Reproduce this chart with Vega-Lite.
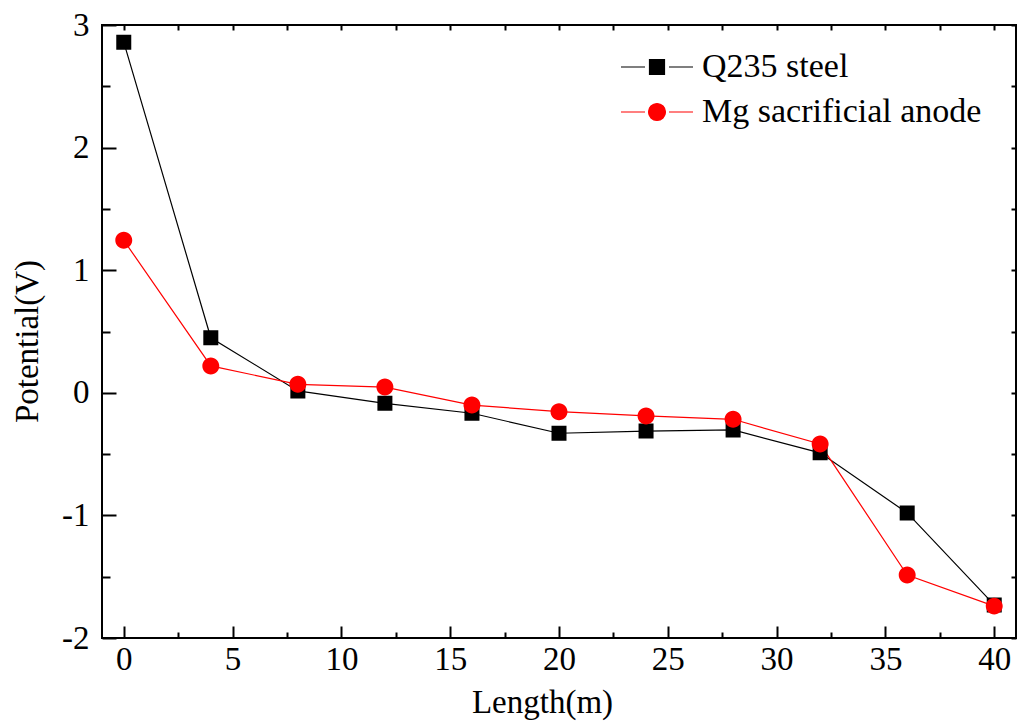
{
  "$schema": "https://vega.github.io/schema/vega-lite/v6.json",
  "width": 914,
  "height": 613,
  "autosize": {"type": "none"},
  "padding": {"left": 102, "top": 25, "right": 5, "bottom": 88},
  "background": "white",
  "config": {
    "font": "Liberation Serif, Times New Roman, serif",
    "view": {"stroke": "black", "strokeWidth": 2},
    "axis": {
      "domain": false,
      "grid": false,
      "tickColor": "black",
      "tickWidth": 2,
      "labelColor": "black",
      "titleColor": "black",
      "labelFont": "Liberation Serif, Times New Roman, serif",
      "titleFont": "Liberation Serif, Times New Roman, serif",
      "labelFontSize": 33,
      "titleFontSize": 33,
      "titleFontWeight": "normal",
      "labelExpr": "toString(datum.value)"
    },
    "legend": {"labelFont": "Liberation Serif, Times New Roman, serif"}
  },
  "data": {
    "values": [
      {"series": "Q235 steel", "length": 0, "potential": 2.86},
      {"series": "Q235 steel", "length": 4, "potential": 0.449},
      {"series": "Q235 steel", "length": 8, "potential": 0.015},
      {"series": "Q235 steel", "length": 12, "potential": -0.086},
      {"series": "Q235 steel", "length": 16, "potential": -0.167},
      {"series": "Q235 steel", "length": 20, "potential": -0.33},
      {"series": "Q235 steel", "length": 24, "potential": -0.312},
      {"series": "Q235 steel", "length": 28, "potential": -0.303},
      {"series": "Q235 steel", "length": 32, "potential": -0.49},
      {"series": "Q235 steel", "length": 36, "potential": -0.98},
      {"series": "Q235 steel", "length": 40, "potential": -1.73},
      {"series": "Mg sacrificial anode", "length": 0, "potential": 1.244},
      {"series": "Mg sacrificial anode", "length": 4, "potential": 0.219},
      {"series": "Mg sacrificial anode", "length": 8, "potential": 0.069},
      {"series": "Mg sacrificial anode", "length": 12, "potential": 0.047},
      {"series": "Mg sacrificial anode", "length": 16, "potential": -0.1},
      {"series": "Mg sacrificial anode", "length": 20, "potential": -0.154},
      {"series": "Mg sacrificial anode", "length": 24, "potential": -0.189},
      {"series": "Mg sacrificial anode", "length": 28, "potential": -0.216},
      {"series": "Mg sacrificial anode", "length": 32, "potential": -0.418},
      {"series": "Mg sacrificial anode", "length": 36, "potential": -1.486},
      {"series": "Mg sacrificial anode", "length": 40, "potential": -1.74}
    ]
  },
  "layer": [
    {
      "mark": {"type": "line", "strokeWidth": 1.2},
      "encoding": {
        "x": {
          "field": "length", "type": "quantitative",
          "scale": {"domain": [-1, 41], "nice": false, "zero": false},
          "axis": {"orient": "bottom", "values": [0, 5, 10, 15, 20, 25, 30, 35, 40], "tickSize": -12, "labelPadding": 17, "title": "Length(m)", "titlePadding": 10, "titleX": 440}
        },
        "y": {
          "field": "potential", "type": "quantitative",
          "scale": {"domain": [-2, 3], "nice": false, "zero": false},
          "axis": {"orient": "left", "values": [-2, -1, 0, 1, 2, 3], "tickSize": -14, "labelPadding": 27, "title": "Potential(V)", "titlePadding": 17, "titleY": 316}
        },
        "color": {
          "field": "series", "type": "nominal",
          "scale": {"domain": ["Q235 steel", "Mg sacrificial anode"], "range": ["black", "#ff0000"]}
        },
        "detail": {"field": "series"}
      }
    },
    {
      "mark": {"type": "point", "filled": true, "opacity": 1, "size": 225},
      "encoding": {
        "x": {
          "field": "length", "type": "quantitative",
          "axis": {"orient": "bottom", "values": [2.5, 7.5, 12.5, 17.5, 22.5, 27.5, 32.5, 37.5], "tickSize": -6, "labels": false, "title": null}
        },
        "y": {
          "field": "potential", "type": "quantitative",
          "axis": {"orient": "left", "values": [-1.5, -0.5, 0.5, 1.5, 2.5], "tickSize": -8, "labels": false, "title": null}
        },
        "color": {
          "field": "series", "type": "nominal",
          "scale": {"domain": ["Q235 steel", "Mg sacrificial anode"], "range": ["black", "#ff0000"]},
          "legend": {
            "orient": "none",
            "legendX": 538,
            "legendY": 25,
            "title": null,
            "padding": 0,
            "symbolSize": 225,
            "labelFontSize": 34,
            "labelColor": "black",
            "labelOffset": 28,
            "labelLimit": 0,
            "rowPadding": 11,
            "symbolStrokeWidth": 1.2,
            "symbolOpacity": 1
          }
        },
        "shape": {
          "field": "series", "type": "nominal",
          "scale": {"domain": ["Q235 steel", "Mg sacrificial anode"], "range": [
            "M-4.8,0H-1.6M1.6,0H4.8M-1,-1H1V1H-1Z",
            "M-4.8,0H-1.6M1.6,0H4.8M-1.13,0A1.13,1.13 0 1,0 1.13,0A1.13,1.13 0 1,0 -1.13,0Z"
          ]},
          "legend": {
            "orient": "none",
            "legendX": 538,
            "legendY": 25,
            "title": null,
            "padding": 0,
            "symbolSize": 225,
            "labelFontSize": 34,
            "labelColor": "black",
            "labelOffset": 28,
            "labelLimit": 0,
            "rowPadding": 11,
            "symbolStrokeWidth": 1.2,
            "symbolOpacity": 1
          }
        }
      }
    },
    {
      "mark": {"type": "point", "opacity": 0},
      "encoding": {
        "x": {
          "field": "length", "type": "quantitative",
          "axis": {"orient": "top", "values": [0, 2.5, 5, 7.5, 10, 12.5, 15, 17.5, 20, 22.5, 25, 27.5, 30, 32.5, 35, 37.5, 40], "tickSize": -5, "labels": false, "title": null}
        },
        "y": {
          "field": "potential", "type": "quantitative",
          "axis": {"orient": "right", "values": [-2, -1.5, -1, -0.5, 0, 0.5, 1, 1.5, 2, 2.5, 3], "tickSize": -5, "labels": false, "title": null}
        }
      }
    }
  ],
  "resolve": {"axis": {"x": "independent", "y": "independent"}}
}
